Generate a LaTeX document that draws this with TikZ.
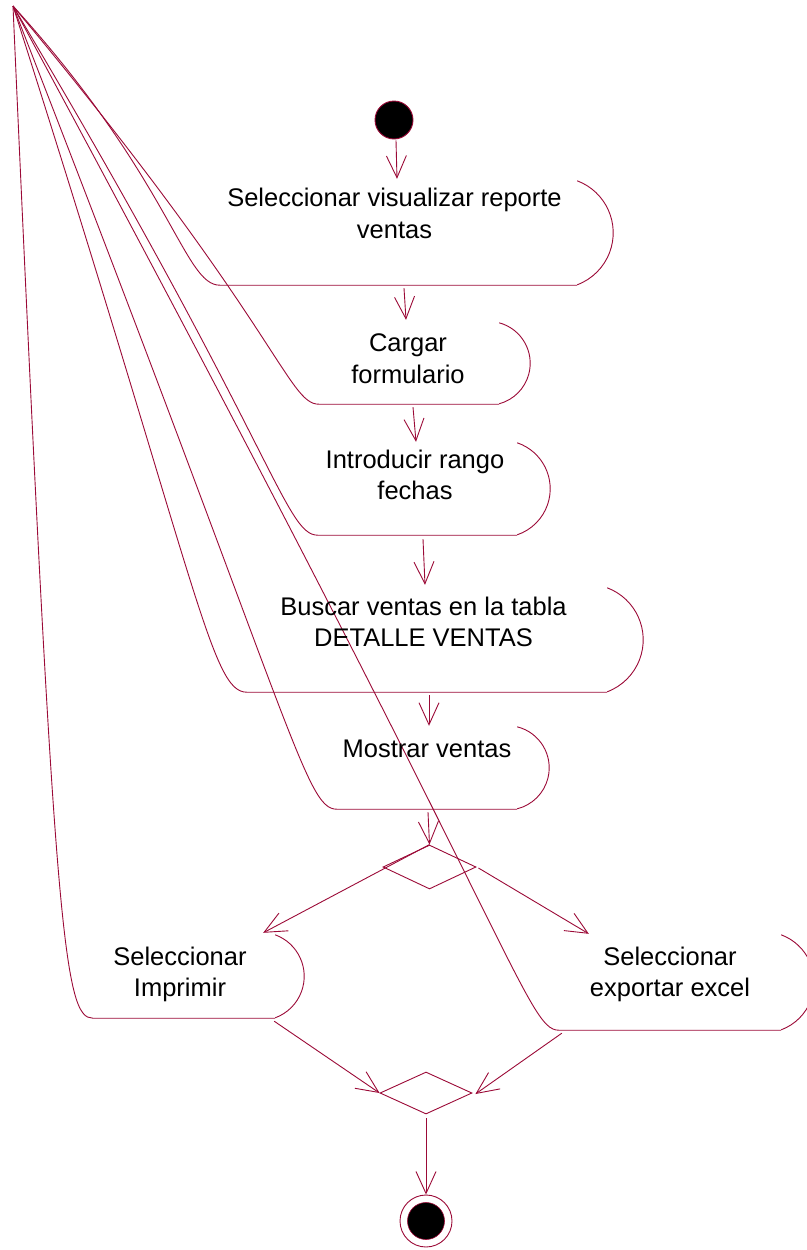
\documentclass[tikz,border=0pt]{standalone}
\usepackage{fontspec}
\setmainfont{Liberation Sans}
\usetikzlibrary{arrows.meta,calc,shapes.geometric}
\definecolor{rose}{RGB}{155,10,55}

% outline of an activity state: curved left side from the apex, bottom line, right arc
% #1 node name, #2 bulge of the right arc, #3 height of the state
\newcommand\actoutline[3]{%
  \pgfmathsetmacro\arcR{((#3/2)^2+(#2)^2)/(2*(#2))}%
  \pgfmathsetmacro\arcT{asin((#3/2)/\arcR)}%
  \draw[edge] (apex) .. controls ([shift={(-1.33*#2,0)}]#1.north west)
      and ([shift={(-#2,0)}]#1.south west) .. (#1.south west) -- (#1.south east);
  \draw[edge] (#1.north east) arc[start angle=\arcT, end angle=-\arcT, radius=\arcR pt];
}

\begin{document}
\begin{tikzpicture}[x=1pt,y=-1pt,
  edge/.style={draw=rose, line width=0.9pt},
  flow/.style={edge, -{Straight Barb[length=22pt,width=20pt]}},
  actbox/.style={rectangle, draw=none, inner sep=0pt},
  acttext/.style={align=center, inner sep=0pt, font=\fontsize{25.5}{31.5}\selectfont},
  branch/.style={diamond, draw=rose, line width=0.9pt, inner sep=0pt},
]
\useasboundingbox (0,0) rectangle (806,1250);
\coordinate (apex) at (13,6);

% activity states (boxes)
\node[actbox, minimum width=357pt, minimum height=104pt] (a1) at (398.5,233) {};
\node[actbox, minimum width=180pt, minimum height=81pt]  (a2) at (409,363.5) {};
\node[actbox, minimum width=199pt, minimum height=92pt]  (a3) at (417.5,489) {};
\node[actbox, minimum width=360pt, minimum height=104pt] (a4) at (427,640) {};
\node[actbox, minimum width=180pt, minimum height=82pt]  (a5) at (427,768) {};
\node[actbox, minimum width=182pt, minimum height=83pt]  (a6) at (184,976.5) {};
\node[actbox, minimum width=222pt, minimum height=95pt]  (a7) at (670,982.5) {};

\actoutline{a1}{36}{104}
\actoutline{a2}{31}{81}
\actoutline{a3}{33}{92}
\actoutline{a4}{36}{104}
\actoutline{a5}{32}{82}
\actoutline{a6}{29}{83}
\actoutline{a7}{33}{95}

% labels
\node[acttext] (t1) at (394.5,213.5) {Seleccionar visualizar reporte\\ventas};
\node[acttext] (t2) at (408,358.5) {Cargar\\formulario};
\node[acttext] (t3) at (415,475) {Introducir rango\\fechas};
\node[acttext] (t4) at (423.5,622) {Buscar ventas en la tabla\\DETALLE VENTAS};
\node[acttext] (t5) at (427,749) {Mostrar ventas};
\node[acttext] (t6) at (180,974.5) {Seleccionar\\Imprimir};
\node[acttext] (t7) at (670,974.5) {Seleccionar\\exportar excel};

% start and end
\node[circle, draw=rose, fill=black, line width=0.9pt, minimum size=38pt, inner sep=0pt] (init) at (394,120) {};
\node[circle, draw=rose, line width=0.9pt, minimum size=52pt, inner sep=0pt] (final) at (426,1221) {};
\node[circle, draw=rose, fill=black, line width=0.6pt, minimum size=37pt, inner sep=0pt] (finalcore) at (426,1221) {};

% decision and merge
\node[branch, minimum width=93pt, minimum height=44pt] (dm1) at (429.5,867) {};
\node[branch, minimum width=92pt, minimum height=42pt] (dm2) at (426,1093) {};

% transitions
\draw[flow] ([shift={(2,1)}]init.south) -- ([shift={(-1.5,-2)}]a1.north);
\draw[flow] ([shift={(5.5,3)}]a1.south) -- ([shift={(-3,-3)}]a2.north);
\draw[flow] ([shift={(4,3)}]a2.south) -- ([shift={(-1.5,-1)}]a3.north);
\draw[flow] ([shift={(5.5,4)}]a3.south) -- ([shift={(-2,-3)}]a4.north);
\draw[flow] ([shift={(2,3)}]a4.south) -- ([shift={(2,-1)}]a5.north);
\draw[flow] ([shift={(1,3)}]a5.south) -- (dm1.north);
\draw[flow] (dm1.north) -- ([shift={(-12,-2)}]a6.north east);
\draw[flow] ([shift={(2,1)}]dm1.east) -- ([shift={(30,-1)}]a7.north west);
\draw[flow] ([shift={(-1,3)}]a6.south east) -- (dm2.west);
\draw[flow] ([shift={(3,3)}]a7.south west) -- ([shift={(3,1)}]dm2.east);
\draw[flow] ([shift={(0,4)}]dm2.south) -- (final.north);
\end{tikzpicture}
\end{document}
